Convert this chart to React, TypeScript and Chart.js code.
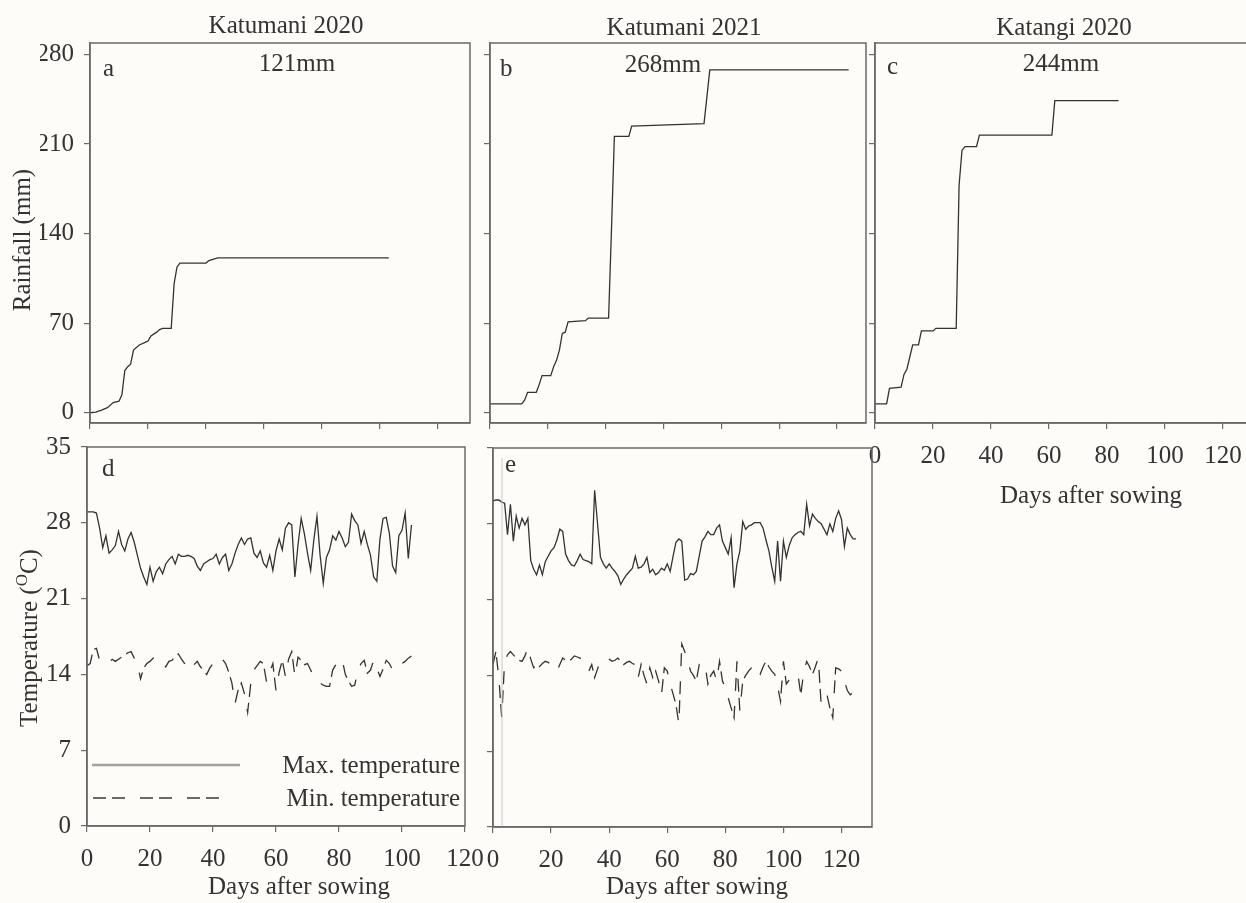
import React, { useEffect, useRef } from 'react';
import { Chart, registerables } from 'chart.js';

Chart.register(...registerables);

// ---------------- data ----------------
const rainA_days = [0, 2, 4, 6, 8, 10, 11, 12, 13, 14, 15, 17, 19, 20, 21, 23, 24, 25, 28, 29, 30, 31, 40, 41, 44, 103];
const rainA_mm = [0, 0.5, 2, 4, 8, 9, 14, 33, 36, 38, 49, 53, 55, 56, 60, 63, 65, 66, 66, 101, 114, 117, 117, 119, 121, 121];

const rainB_days = [0, 11, 12, 13, 16, 17, 18, 21, 22, 23, 24, 25, 26, 27, 33, 34, 41, 42, 43, 48, 49, 74, 76, 124];
const rainB_mm = [7, 7, 10, 16, 16, 22, 29, 29, 36, 41, 49, 62, 63, 71, 72, 74, 74, 143, 216, 216, 224, 226, 268, 268];

const rainC_days = [0, 4, 5, 9, 10, 11, 13, 15, 16, 20, 21, 28, 29, 30, 31, 35, 36, 61, 62, 84];
const rainC_mm = [7, 7, 19, 20, 30, 34, 53, 53, 64, 64, 66, 66, 178, 205, 208, 208, 217, 217, 244, 244];

const tempD_max = [
  29.0, 29.0, 29.0, 28.9, 27.5, 25.7, 26.8, 25.2, 25.5, 25.9,
  27.2, 26.0, 25.4, 26.5, 27.1, 26.2, 25.0, 23.8, 23.0, 22.3,
  23.9, 22.6, 23.5, 23.9, 23.3, 24.2, 24.6, 24.9, 24.2, 25.1,
  24.9, 24.9, 25.0, 24.9, 24.7, 24.0, 23.6, 24.2, 24.4, 24.6,
  24.7, 25.1, 24.2, 24.8, 25.1, 23.6, 24.2, 25.2, 26.0, 26.6,
  26.0, 26.5, 26.6, 25.2, 24.8, 25.4, 24.3, 23.9, 25.0, 23.6,
  25.4, 26.5, 25.5, 27.5, 28.0, 27.8, 23.0, 26.0, 28.4, 27.0,
  25.2, 23.6, 26.4, 28.6, 25.0, 22.4, 24.8, 25.5, 26.8, 26.4,
  27.2, 26.6, 25.8, 26.2, 28.8, 28.2, 27.8, 26.1, 27.2, 26.0,
  25.0, 23.0, 22.6, 26.5, 28.4, 28.5, 27.0, 24.0, 23.4, 26.8,
  27.3, 28.9, 24.7, 27.8,
];
const tempD_min = [
  14.8, 15.0, 16.3, 16.4, 15.3, 15.2, 15.3, 15.1, 15.4, 15.2,
  15.4, 15.6, 15.8, 16.0, 16.1, 15.5, 15.0, 13.6, 14.6, 15.0,
  15.2, 15.5, 15.6, 15.3, 15.0, 14.7, 15.2, 15.3, 15.7, 15.9,
  15.4, 15.0, 14.6, 14.4, 14.9, 15.2, 14.7, 14.4, 14.0, 14.6,
  15.0, 15.3, 15.6, 15.4, 15.0, 14.2, 13.2, 11.3, 12.6, 13.2,
  12.2, 10.5, 13.2, 14.4, 14.8, 15.2, 15.0, 13.3, 14.2, 15.0,
  12.5, 14.2, 15.3, 13.8, 15.4, 16.1, 13.8, 15.6, 15.3, 14.9,
  15.0, 14.4, 13.8, 13.4, 13.2, 13.0, 12.9, 12.9, 14.4, 14.9,
  15.3, 15.4, 14.0, 13.4, 12.9, 13.0, 14.4, 15.0, 15.3, 14.1,
  14.4, 15.3, 14.6, 13.8, 14.5, 15.3, 15.0, 14.4, 14.4, 14.8,
  15.0, 15.2, 15.5, 15.7,
];

const tempE_max = [
  30.1, 30.2, 30.2, 30.0, 29.9, 27.0, 29.8, 26.4, 28.7, 27.6,
  28.5, 27.9, 28.5, 24.6, 23.8, 23.3, 24.2, 23.3, 24.5, 25.0,
  25.5, 25.8, 26.5, 27.5, 27.3, 25.2, 24.6, 24.2, 24.1, 24.6,
  25.2, 24.7, 24.6, 24.5, 24.3, 31.1, 28.0, 24.9, 24.3, 23.9,
  24.3, 23.9, 23.6, 23.2, 22.4, 22.9, 23.3, 23.6, 23.9, 25.0,
  23.9, 24.0, 24.3, 24.9, 23.5, 23.8, 23.3, 23.5, 23.9, 23.7,
  24.3, 23.6, 25.0, 26.3, 26.6, 26.4, 22.8, 22.9, 23.4, 23.3,
  23.6, 25.0, 26.4, 26.8, 27.3, 27.0, 27.0, 27.6, 27.9, 26.4,
  25.8, 25.2, 26.7, 22.1, 24.3, 25.5, 28.2, 27.5, 27.8, 27.9,
  28.1, 28.1, 28.1, 27.6, 26.5, 25.5, 24.0, 22.7, 26.4, 22.7,
  26.4, 24.9, 26.0, 26.7, 27.0, 27.2, 27.3, 27.0, 29.8, 27.8,
  28.9, 28.5, 28.2, 28.0, 27.5, 27.0, 28.0, 27.3, 28.5, 29.2,
  28.4, 25.9, 27.6, 27.0, 26.6, 26.6,
];
const tempE_min = [
  15.0, 16.2, 13.8, 10.1, 15.3, 15.9, 16.2, 15.9, 15.6, 15.4,
  15.3, 15.8, 16.6, 15.5, 14.7, 15.0, 14.8, 15.1, 15.3, 15.2,
  15.0, 14.7, 14.4, 15.0, 15.6, 15.4, 15.3, 15.5, 15.8, 15.7,
  15.6, 15.2, 14.8, 14.4, 15.0, 13.8, 14.6, 15.3, 15.4, 15.6,
  15.5, 15.3, 15.4, 15.6, 15.3, 15.0, 15.2, 15.3, 15.1, 15.0,
  13.8, 15.0, 14.0, 13.2, 14.7, 13.8, 14.4, 13.5, 12.2, 14.7,
  14.4, 13.2, 12.3, 11.3, 9.5, 16.9, 16.2, 15.6, 14.4, 14.0,
  13.5, 15.0, 14.8, 15.0, 13.2, 14.0, 14.4, 13.5, 15.3, 13.5,
  12.8, 11.9, 11.0, 10.1, 15.3, 10.7, 13.5, 14.0, 14.4, 14.7,
  15.0, 14.5, 14.1, 14.8, 15.3, 14.8, 14.4, 14.1, 13.0, 11.6,
  15.3, 13.2, 13.6, 13.8, 14.0, 14.1, 12.2, 14.4, 15.3, 14.8,
  14.1, 14.8, 15.6, 11.3, 11.8, 12.2, 11.0, 10.1, 14.7, 14.6,
  14.4, 13.5, 12.6, 12.2, 12.4, 12.2,
];

const dayTicks = [0, 20, 40, 60, 80, 100, 120];
const rainTicks = [0, 70, 140, 210, 280];
const tempTicks = [0, 7, 14, 21, 28, 35];

const panelTitles = ['Katumani 2020', 'Katumani 2021', 'Katangi 2020'];
const totals = ['121mm', '268mm', '244mm'];
const letters = ['a', 'b', 'c', 'd', 'e'];
const xTitle = 'Days after sowing';
const legendLabels = ['Max. temperature', 'Min. temperature'];

// ---------------- styling ----------------
const CW = 1270;
const CH = 903;
const SERIF = "'Liberation Serif', 'Times New Roman', serif";
const INK = '#333333';
const AXIS = '#6a6a6a';
const BG = '#fdfcf8';
const FS = 25;
const MIN_DASH = [13, 6, 13, 15];

type Part = { t: string; sup?: boolean };
type Txt = { parts: Part[]; x: number; y: number; align: 'left' | 'center' | 'right'; rot?: boolean };
type Series = { x: number[]; y: number[]; dash?: number[] };
type Box = { l: number; t: number; r: number; b: number };
type Panel = {
  box: Box;
  xMax: number;
  yMin: number;
  yMax: number;
  yTicks: number[];
  showX: boolean;
  showY: boolean;
  series: Series[];
  texts: Txt[];
  legend?: boolean;
  faintLineX?: number;
};

const T = (t: string, x: number, y: number, align: 'left' | 'center' | 'right' = 'center', rot = false): Txt => ({
  parts: [{ t }], x, y, align, rot,
});

const idx = (arr: number[]) => arr.map((_, i) => i);

const panels: Panel[] = [
  {
    box: { l: 90, t: 43, r: 470, b: 423 }, xMax: 131, yMin: -8, yMax: 289, yTicks: rainTicks,
    showX: false, showY: true,
    series: [{ x: rainA_days, y: rainA_mm }],
    texts: [
      T(panelTitles[0], 286, 33), T(totals[0], 297, 71), T(letters[0], 103, 76, 'left'),
      T('Rainfall (mm)', 30, 240, 'center', true),
    ],
  },
  {
    box: { l: 490, t: 43, r: 866, b: 423 }, xMax: 130, yMin: -8, yMax: 289, yTicks: rainTicks,
    showX: false, showY: false,
    series: [{ x: rainB_days, y: rainB_mm }],
    texts: [T(panelTitles[1], 684, 35), T(totals[1], 663, 72), T(letters[1], 500, 76, 'left')],
  },
  {
    box: { l: 875, t: 43, r: 1252, b: 423 }, xMax: 130, yMin: -8, yMax: 289, yTicks: rainTicks,
    showX: true, showY: false,
    series: [{ x: rainC_days, y: rainC_mm }],
    texts: [
      T(panelTitles[2], 1064, 35), T(totals[2], 1061, 71), T(letters[2], 887, 74, 'left'),
      T(xTitle, 1091, 503),
    ],
  },
  {
    box: { l: 87, t: 447, r: 465, b: 826 }, xMax: 120, yMin: 0, yMax: 35, yTicks: tempTicks,
    showX: true, showY: true,
    series: [{ x: idx(tempD_max), y: tempD_max }, { x: idx(tempD_min), y: tempD_min, dash: MIN_DASH }],
    texts: [
      T(letters[3], 102, 476, 'left'), T(xTitle, 299, 894),
      { parts: [{ t: 'Temperature (' }, { t: 'O', sup: true }, { t: 'C)' }], x: 37, y: 638, align: 'center', rot: true },
      T(legendLabels[0], 460, 773, 'right'), T(legendLabels[1], 460, 806, 'right'),
    ],
    legend: true,
  },
  {
    box: { l: 493, t: 448, r: 872, b: 827 }, xMax: 130.5, yMin: 0, yMax: 35, yTicks: tempTicks,
    showX: true, showY: false,
    series: [{ x: idx(tempE_max), y: tempE_max }, { x: idx(tempE_min), y: tempE_min, dash: MIN_DASH }],
    texts: [T(letters[4], 505, 472, 'left'), T(xTitle, 697, 894)],
    faintLineX: 502,
  },
];

function drawRich(ctx: CanvasRenderingContext2D, t: Txt) {
  ctx.save();
  ctx.translate(t.x, t.y);
  if (t.rot) ctx.rotate(-Math.PI / 2);
  const fontOf = (p: Part) => `${p.sup ? 17 : FS}px ${SERIF}`;
  const widths = t.parts.map((p) => {
    ctx.font = fontOf(p);
    return ctx.measureText(p.t).width;
  });
  const total = widths.reduce((a, b) => a + b, 0);
  let cx = t.align === 'center' ? -total / 2 : t.align === 'right' ? -total : 0;
  ctx.textAlign = 'left';
  ctx.textBaseline = 'alphabetic';
  ctx.fillStyle = INK;
  t.parts.forEach((p, i) => {
    ctx.font = fontOf(p);
    ctx.fillText(p.t, cx, p.sup ? -10 : 0);
    cx += widths[i];
  });
  ctx.restore();
}

function makeDeco(p: Panel) {
  return {
    id: 'deco',
    afterDraw(chart: any) {
      const ctx: CanvasRenderingContext2D = chart.ctx;
      const a = chart.chartArea;
      ctx.save();
      if (p.faintLineX) {
        ctx.strokeStyle = '#c8c8c8';
        ctx.lineWidth = 1;
        ctx.beginPath();
        ctx.moveTo(p.faintLineX, a.top + 10);
        ctx.lineTo(p.faintLineX, a.bottom);
        ctx.stroke();
      }
      ctx.strokeStyle = AXIS;
      ctx.lineWidth = 1.5;
      ctx.strokeRect(a.left, a.top, a.right - a.left, a.bottom - a.top);
      if (p.legend) {
        ctx.strokeStyle = '#a0a0a0';
        ctx.lineWidth = 2.5;
        ctx.beginPath();
        ctx.moveTo(92, 765);
        ctx.lineTo(240, 765);
        ctx.stroke();
        ctx.strokeStyle = '#6a6a6a';
        ctx.lineWidth = 2;
        ctx.setLineDash(MIN_DASH);
        ctx.beginPath();
        ctx.moveTo(93, 798);
        ctx.lineTo(226, 798);
        ctx.stroke();
        ctx.setLineDash([]);
      }
      for (const t of p.texts) drawRich(ctx, t);
      ctx.restore();
    },
  };
}

function buildConfig(p: Panel): any {
  const YW = 50;
  const XH = 40;
  const tickFont = { family: SERIF, size: FS };
  const grid = { drawOnChartArea: false, drawTicks: true, tickLength: 6, color: AXIS, lineWidth: 1.2 };
  const border = { display: true, color: AXIS, width: 1.5 };
  return {
    type: 'line',
    data: {
      datasets: p.series.map((s) => ({
        data: s.y.map((v, i) => ({ x: s.x[i], y: v })),
        borderColor: INK,
        borderWidth: 1.3,
        borderDash: s.dash || [],
        pointRadius: 0,
        fill: false,
        tension: 0,
      })),
    },
    options: {
      animation: false,
      responsive: false,
      devicePixelRatio: 1,
      layout: {
        padding: { left: p.box.l - YW, top: p.box.t, right: CW - p.box.r, bottom: CH - p.box.b - XH },
      },
      plugins: { legend: { display: false }, tooltip: { enabled: false } },
      scales: {
        x: {
          type: 'linear',
          min: 0,
          max: p.xMax,
          afterBuildTicks: (s: any) => { s.ticks = dayTicks.map((v) => ({ value: v })); },
          afterFit: (s: any) => { s.height = XH; },
          grid,
          border,
          ticks: {
            display: p.showX, font: tickFont, color: INK, padding: 12, maxRotation: 0, autoSkip: false,
            callback: (v: any) => String(v),
          },
        },
        y: {
          type: 'linear',
          min: p.yMin,
          max: p.yMax,
          afterBuildTicks: (s: any) => { s.ticks = p.yTicks.map((v) => ({ value: v })); },
          afterFit: (s: any) => { s.width = YW; },
          grid,
          border,
          ticks: {
            display: p.showY, font: tickFont, color: INK, padding: 10, autoSkip: false,
            callback: (v: any) => String(v),
          },
        },
      },
    },
    plugins: [makeDeco(p)],
  };
}

function PanelChart({ panel }: { panel: Panel }) {
  const ref = useRef<HTMLCanvasElement>(null);
  useEffect(() => {
    if (!ref.current) return;
    const chart = new Chart(ref.current, buildConfig(panel));
    return () => chart.destroy();
  }, [panel]);
  return (
    <canvas
      ref={ref}
      width={CW}
      height={CH}
      style={{ position: 'absolute', left: 0, top: 0, width: CW, height: CH }}
    />
  );
}

export default function App() {
  return (
    <div
      style={{
        position: 'fixed', left: 0, top: 0, width: 1246, height: 903,
        overflow: 'hidden', background: BG,
      }}
    >
      {panels.map((p, i) => (
        <PanelChart key={i} panel={p} />
      ))}
    </div>
  );
}
